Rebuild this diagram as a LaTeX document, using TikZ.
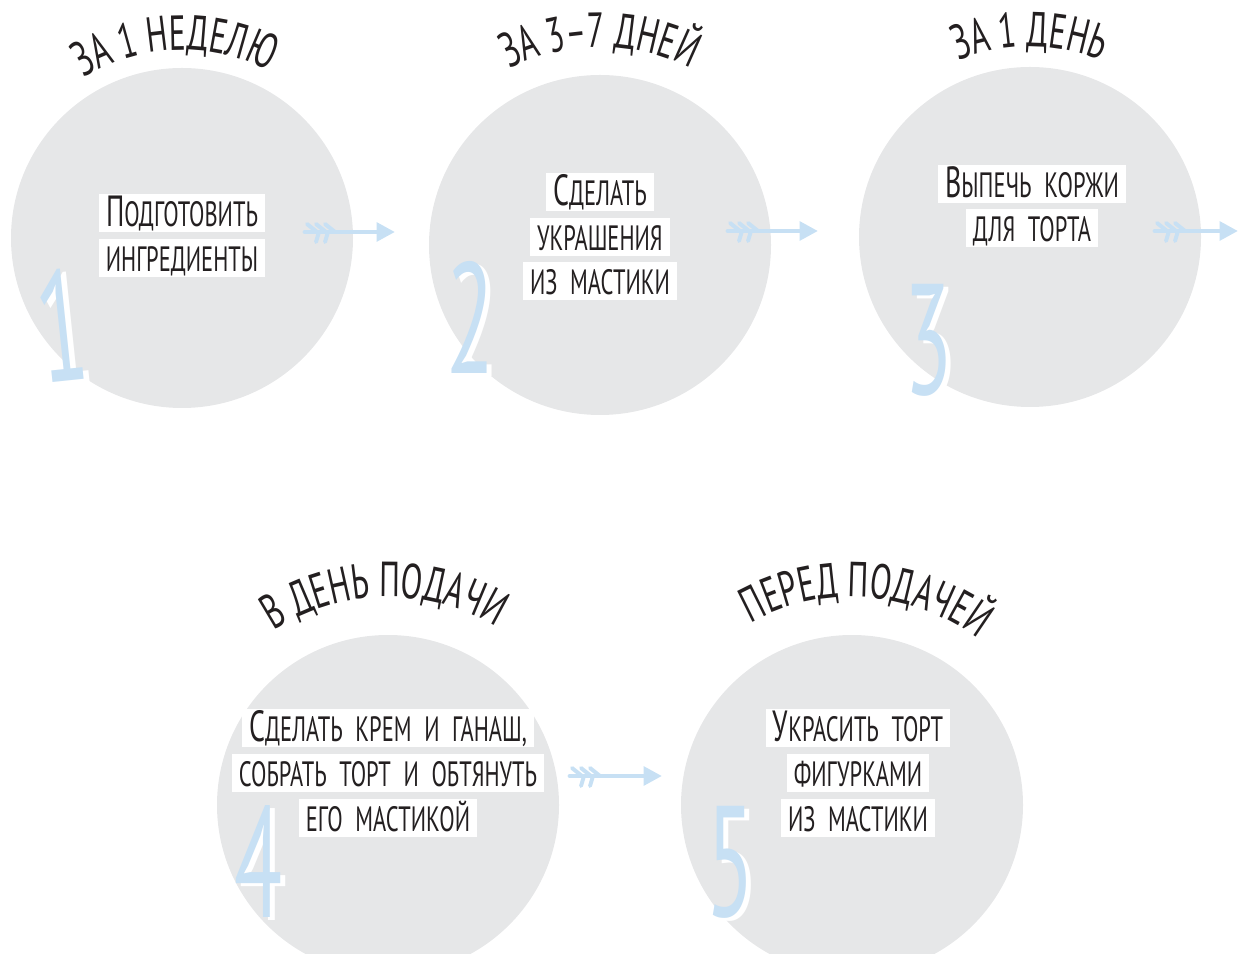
\documentclass[tikz,border=0pt]{standalone}
\usepackage{fontspec}
\setmainfont{PT Sans}
\newfontfamily\handfont[FakeStretch=0.64]{PT Sans}
\newfontfamily\numhand[FakeStretch=0.56]{PT Sans}
\usetikzlibrary{arrows.meta, calc, decorations.text}

\definecolor{blobgray}{HTML}{E6E7E8}
\definecolor{ink}{HTML}{231F20}
\definecolor{sky}{HTML}{C7E0F4}

\newcommand{\bodyfont}{\handfont\fontsize{25}{25}\selectfont\spaceskip=0.36em}
\newcommand{\toplab}{\handfont\fontsize{35}{35}\selectfont}
\newcommand{\toplabb}{\handfont\fontsize{35}{35}\selectfont}
\newcommand{\capl}[1]{{\fontsize{31}{31}\selectfont #1}}
\newcommand{\numfont}{\numhand\fontsize{112}{112}\selectfont}

\tikzset{
  blob/.style={fill=blobgray},
  line/.style={fill=white, inner xsep=5pt, inner ysep=1.7pt, text height=21pt,
    text depth=2pt, font=\bodyfont, text=ink},
  stepnum/.style={font=\numfont, text=sky, inner sep=0pt},
  numshadow/.style={font=\numfont, text=white, inner sep=0pt},
  arr/.style={draw=sky, line width=3.5pt, line cap=round,
    -{Triangle[length=13pt,width=13pt]}},
  feather/.style={draw=sky, line width=2.8pt, line cap=round},
}

\begin{document}
\begin{tikzpicture}[x=0.025cm, y=0.025cm]
    \clip (0,0) rectangle (1240,953);

    % blobs
    \coordinate (c1) at (182,715);
    \coordinate (c2) at (600,708);
    \coordinate (c3) at (1030,716);
    \coordinate (c4) at (388,148);
    \coordinate (c5) at (852,148);
    \foreach \c in {c1,c2,c3,c4,c5}
        \fill [blob] (\c) circle [x radius=171, y radius=170];

    % numbers
    \node [numshadow, rotate=6] at (68,625) {1};
    \node (n1) [stepnum, rotate=6] at (62,628) {1};
    \node [numshadow] at (476,633) {2};
    \node (n2) [stepnum] at (471,636) {2};
    \node [numshadow] at (934,610) {3};
    \node (n3) [stepnum] at (929,613) {3};
    \node [numshadow] at (264,88) {4};
    \node (n4) [stepnum] at (259,91) {4};
    \node [numshadow] at (736,88) {5};
    \node (n5) [stepnum] at (731,91) {5};

    % curved headings
    \path [decorate, decoration={text along path, text align=center,
        text={|\toplab\color{ink}|ЗА 1 НЕДЕЛЮ}}]
        ($(c1)+(172:188)$) arc [start angle=172, end angle=12, radius=188];
    \path [decorate, decoration={text along path, text align=center,
        text={|\toplab\color{ink}|ЗА 3–7 ДНЕЙ}}]
        ($(c2)+(170:198)$) arc [start angle=170, end angle=10, radius=198];
    \path [decorate, decoration={text along path, text align=center,
        text={|\toplab\color{ink}|ЗА 1 ДЕНЬ}}]
        ($(c3)+(170:190)$) arc [start angle=170, end angle=10, radius=190];
    \path [decorate, decoration={text along path, text align=center,
        text={|\toplabb\color{ink}|В ДЕНЬ ПОДАЧИ}}]
        ($(c4)+(171:208)$) arc [start angle=171, end angle=11, radius=208];
    \path [decorate, decoration={text along path, text align=center,
        text={|\toplabb\color{ink}|ПЕРЕД ПОДАЧЕЙ}}]
        ($(c5)+(166:208)$) arc [start angle=166, end angle=6, radius=208];

    % step texts
    \node (l1a) [line] at (182,740) {\capl{П}ОДГОТОВИТЬ};
    \node (l1b) [line] at (182,695) {ИНГРЕДИЕНТЫ};

    \node (l2a) [line] at (600,761) {\capl{С}ДЕЛАТЬ};
    \node (l2b) [line] at (600,716) {УКРАШЕНИЯ};
    \node (l2c) [line] at (600,672) {ИЗ МАСТИКИ};

    \node (l3a) [line] at (1032,769) {\capl{В}ЫПЕЧЬ КОРЖИ};
    \node (l3b) [line] at (1032,725) {ДЛЯ ТОРТА};

    \node (l4a) [line] at (388,225) {\capl{С}ДЕЛАТЬ КРЕМ И ГАНАШ,};
    \node (l4b) [line] at (388,180) {СОБРАТЬ ТОРТ И ОБТЯНУТЬ};
    \node (l4c) [line] at (388,135) {ЕГО МАСТИКОЙ};

    \node (l5a) [line] at (858,225) {\capl{У}КРАСИТЬ ТОРТ};
    \node (l5b) [line] at (858,180) {ФИГУРКАМИ};
    \node (l5c) [line] at (858,135) {ИЗ МАСТИКИ};

    % arrows
    \coordinate (a1t) at (305,721);  \coordinate (a1h) at (395,721);
    \coordinate (a2t) at (728,722);  \coordinate (a2h) at (818,722);
    \coordinate (a3t) at (1155,722); \coordinate (a3h) at (1238,722);
    \coordinate (a4t) at (570,177);  \coordinate (a4h) at (662,177);
    \foreach \t/\h in {a1t/a1h, a2t/a2h, a3t/a3h, a4t/a4h} {
        \draw [arr] (\t) -- (\h);
        \foreach \dx in {12,21,30}
            \draw [feather] ($(\t)+(\dx,0)$) -- ++(-10,8);
        \foreach \dx in {14,23}
            \draw [feather] ($(\t)+(\dx,0)$) -- ++(-3,-10);
    }
\end{tikzpicture}
\end{document}
